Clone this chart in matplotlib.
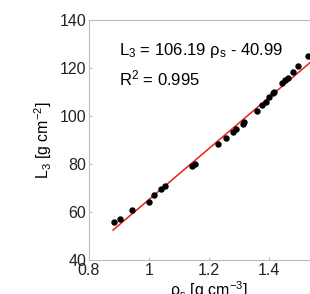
import matplotlib.pyplot as plt
import numpy as np

plt.rcParams['font.family'] = ['Liberation Sans', 'DejaVu Sans']
plt.rcParams['mathtext.fontset'] = 'custom'
plt.rcParams['mathtext.rm'] = 'Liberation Sans'
plt.rcParams['mathtext.it'] = 'Liberation Sans:italic'

# Dichte rho_s [g cm-3] und L3 [g cm-2]
rho = np.array([0.883, 0.903, 0.943, 1.0, 1.017, 1.04, 1.053,
                1.143, 1.153, 1.23, 1.257, 1.28, 1.29, 1.313, 1.316,
                1.36, 1.377, 1.39, 1.40, 1.413, 1.418, 1.443, 1.453,
                1.463, 1.48, 1.497, 1.53])
L3 = np.array([55.8, 57.1, 60.8, 64.2, 67.0, 69.6, 70.8,
               79.2, 80.0, 88.3, 90.8, 93.3, 94.6, 96.7, 97.5,
               102.0, 104.6, 105.8, 107.9, 109.6, 110.0, 113.8, 115.0,
               115.8, 118.3, 120.8, 125.0])

slope = 106.19
intercept = -40.99
x_fit = np.array([0.88, 1.6])

fig = plt.figure(figsize=(3.1, 2.94), dpi=100)
ax = fig.add_axes([0.287, 0.1156, 0.774, 0.8164])

ax.plot(x_fit, slope * x_fit + intercept, color='#ee1c1c', lw=1.1)
ax.plot(rho, L3, 'o', color='black', markersize=3.6)

ax.text(0.9, 125.4, 'L$_\\mathrm{3}$ = 106.19 ρ$_\\mathrm{s}$ - 40.99', fontsize=12)
ax.text(0.9, 112.9, 'R$^\\mathrm{2}$ = 0.995', fontsize=12)

ax.set_xlim(0.8, 1.6)
ax.set_ylim(40, 140)
ax.set_xticks([0.8, 1, 1.2, 1.4])
ax.set_xticklabels(['0.8', '1', '1.2', '1.4'])
ax.set_yticks([40, 60, 80, 100, 120, 140])
ax.tick_params(direction='in', length=2, width=0.6, color='#aaaaaa',
               labelsize=11.5, labelcolor='#222222', pad=2)
for s in ax.spines.values():
    s.set_color('#bbbbbb')
    s.set_linewidth(0.8)

ax.set_xlabel('ρ$_\\mathrm{s}$ [g cm$^\\mathrm{-3}$]', fontsize=11.5, labelpad=1)
ax.set_ylabel('L$_\\mathrm{3}$ [g cm$^\\mathrm{-2}$]', fontsize=11.5, labelpad=4)

fig.savefig('out.png', dpi=100)
